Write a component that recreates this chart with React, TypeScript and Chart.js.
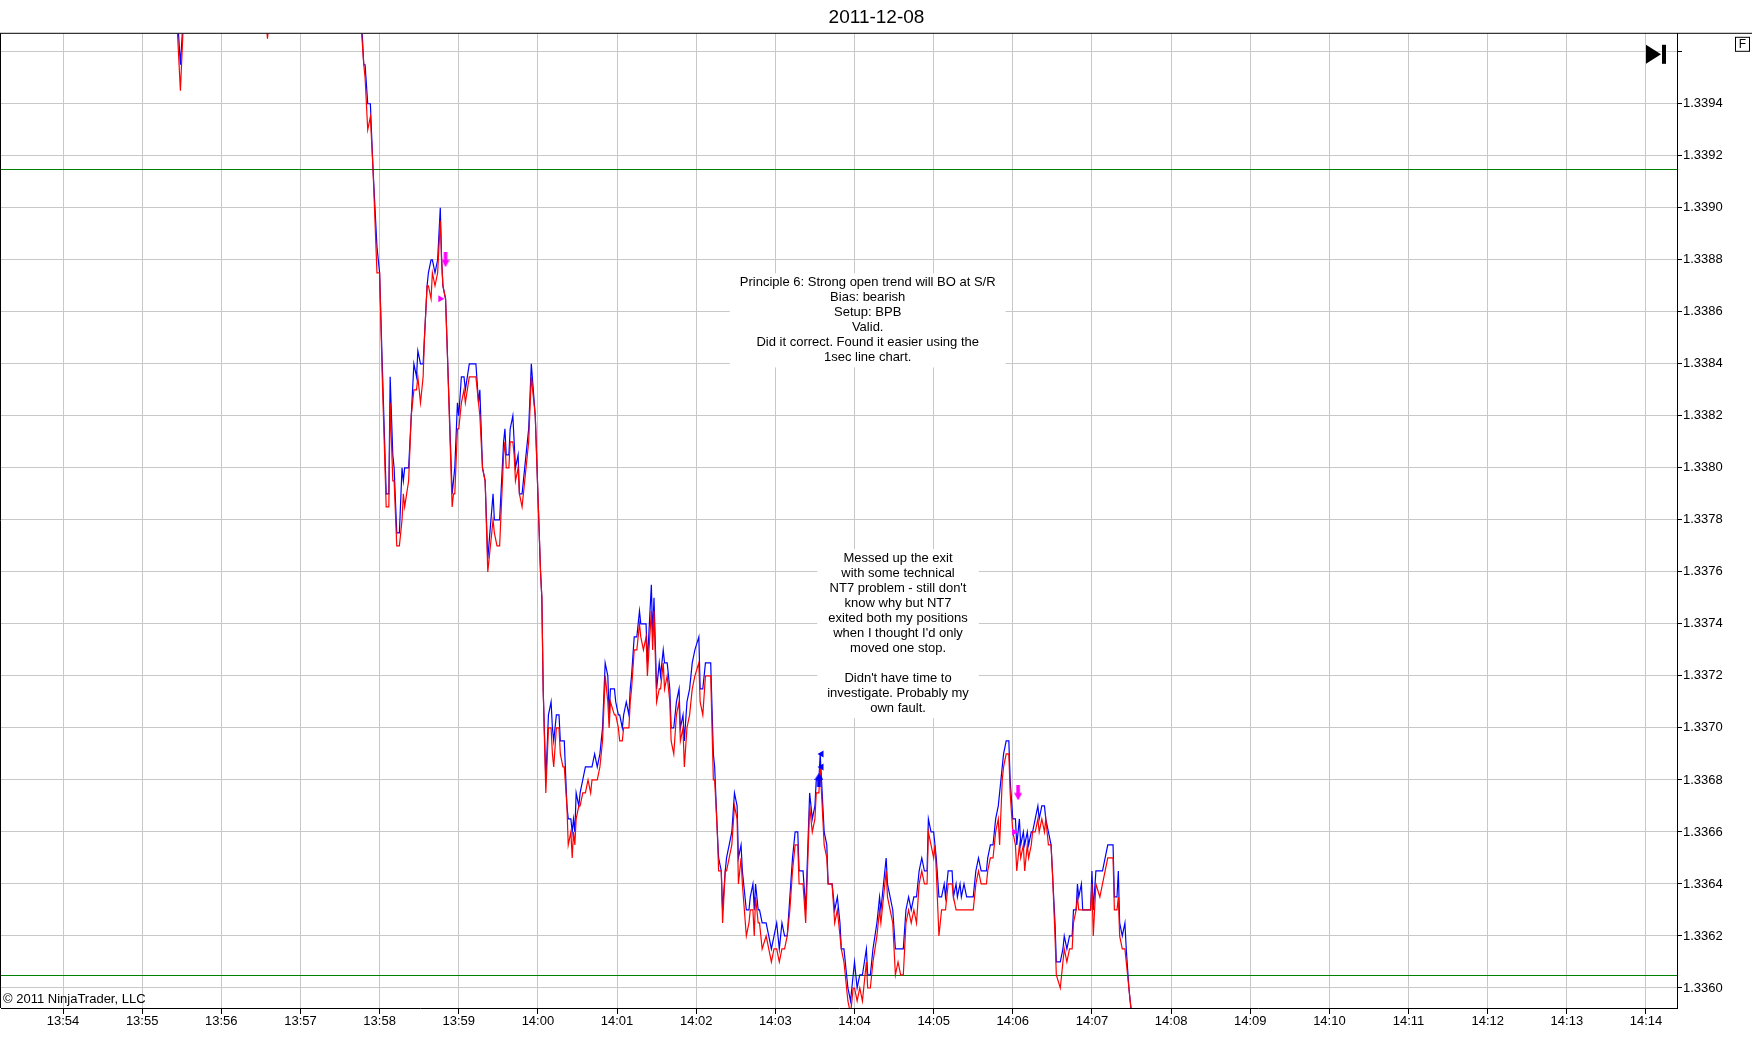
import React, { useEffect, useRef } from 'react';
import { Chart, registerables } from 'chart.js';

Chart.register(...registerables);

const FONT = "'Liberation Sans', Arial, Helvetica, sans-serif";

const chartTitle = '2011-12-08';
const copyrightText = '\u00a9 2011 NinjaTrader, LLC';
const sessionOrigin = '13:54';

const xTickLabels = ['13:54', '13:55', '13:56', '13:57', '13:58', '13:59', '14:00', '14:01', '14:02', '14:03', '14:04', '14:05', '14:06', '14:07', '14:08', '14:09', '14:10', '14:11', '14:12', '14:13', '14:14'];
const yTickValues = [1.336, 1.3362, 1.3364, 1.3366, 1.3368, 1.337, 1.3372, 1.3374, 1.3376, 1.3378, 1.338, 1.3382, 1.3384, 1.3386, 1.3388, 1.339, 1.3392, 1.3394, 1.3396];
const yUnlabeledTicks = [1.3396];
const xRange = [-47, 1223.5];
const yRange = [1.335923, 1.339669];

// seconds after 13:54:00
const seconds = [
  -50, 80, 86, 89, 92, 100, 150, 155, 160, 220, 226, 228, 229, 231, 233, 235, 238, 240, 242, 245,
  247, 248, 250, 251, 253, 255, 257, 258, 259, 262, 264, 266, 268, 269, 271, 273, 274, 276, 277, 279,
  280, 282, 284, 286, 287, 288, 290, 291, 295, 296, 297, 299, 300, 302, 304, 305, 308, 313, 315, 316,
  318, 320, 322, 326, 327, 329, 331, 334, 335, 336, 338, 339, 341, 342, 343, 345, 346, 348, 350, 353,
  355, 358, 362, 363, 364, 366, 368, 370, 371, 372, 374, 376, 377, 379, 380, 382, 383, 385, 386, 387,
  388, 389, 391, 392, 394, 396, 398, 400, 401, 403, 405, 407, 409, 411, 413, 414, 415, 418, 419, 421,
  422, 424, 425, 427, 429, 430, 431, 433, 435, 437, 438, 440, 442, 443, 446, 447, 448, 450, 452, 453,
  455, 456, 458, 460, 461, 463, 465, 467, 468, 470, 471, 473, 475, 477, 479, 482, 483, 485, 487, 491,
  493, 494, 496, 497, 499, 500, 502, 503, 505, 507, 509, 511, 512, 514, 515, 518, 520, 521, 523, 524,
  525, 527, 528, 530, 533, 535, 537, 539, 541, 543, 545, 547, 549, 551, 553, 555, 557, 558, 561, 563,
  564, 566, 568, 570, 571, 573, 574, 575, 577, 579, 580, 583, 585, 587, 589, 590, 592, 594, 595, 597,
  599, 600, 602, 604, 606, 609, 610, 612, 614, 617, 619, 620, 622, 624, 625, 627, 629, 631, 633, 635,
  637, 639, 641, 643, 645, 647, 649, 651, 653, 655, 656, 658, 660, 661, 662, 664, 666, 668, 669, 671,
  674, 675, 677, 678, 680, 681, 683, 685, 690, 692, 694, 696, 700, 701, 703, 705, 707, 709, 710, 712,
  713, 715, 717, 718, 720, 722, 723, 725, 726, 728, 729, 731, 732, 734, 735, 737, 739, 740, 742, 744,
  745, 747, 749, 750, 752, 753, 756, 758, 759, 761, 763, 765, 766, 768, 769, 770, 772, 773, 779, 780,
  781, 783, 786, 788, 790, 792, 796, 797, 799, 800, 801, 803, 805, 806, 808, 810,
];

const bluePrices = [
  1.3404, 1.3402, 1.3398, 1.33955, 1.3398, 1.3402, 1.34, 1.3397, 1.34, 1.34, 1.33975, 1.33955, 1.33955, 1.3394, 1.3394, 1.33915, 1.33885, 1.33875, 1.3384, 1.3379,
  1.3379, 1.33835, 1.33805, 1.338, 1.33775, 1.33775, 1.338, 1.33795, 1.338, 1.338, 1.3382, 1.3384, 1.33835, 1.33845, 1.3384, 1.3384, 1.3385, 1.3387, 1.33875, 1.3388,
  1.3388, 1.33875, 1.3388, 1.339, 1.3388, 1.3387, 1.33865, 1.3385, 1.3379, 1.33795, 1.338, 1.33825, 1.3382, 1.33835, 1.33835, 1.3383, 1.3384, 1.3384, 1.33825, 1.3383,
  1.338, 1.33795, 1.33765, 1.3379, 1.3378, 1.3378, 1.3378, 1.3381, 1.33815, 1.33805, 1.33805, 1.33815, 1.3382, 1.3381, 1.338, 1.33805, 1.3379, 1.3379, 1.338, 1.33815,
  1.3384, 1.3382, 1.3376, 1.3375, 1.33715, 1.3368, 1.33705, 1.3371, 1.337, 1.33695, 1.33705, 1.33705, 1.33695, 1.33695, 1.33695, 1.3367, 1.33665, 1.33665, 1.3366, 1.33665,
  1.3366, 1.33675, 1.3367, 1.33675, 1.3368, 1.33685, 1.33685, 1.33685, 1.33685, 1.3369, 1.33685, 1.3369, 1.337, 1.33725, 1.3372, 1.33705, 1.33715, 1.33715, 1.3371, 1.33705,
  1.33705, 1.337, 1.33705, 1.3371, 1.33705, 1.33715, 1.3372, 1.33735, 1.33735, 1.33745, 1.3374, 1.3374, 1.3374, 1.33725, 1.33755, 1.33735, 1.3375, 1.33715, 1.33725, 1.3372,
  1.3373, 1.33725, 1.33725, 1.33715, 1.337, 1.337, 1.3371, 1.33715, 1.337, 1.33705, 1.33695, 1.3371, 1.33715, 1.33725, 1.3373, 1.33735, 1.33715, 1.33715, 1.33725, 1.33725,
  1.3369, 1.33685, 1.3366, 1.3365, 1.33645, 1.3363, 1.33645, 1.3365, 1.33655, 1.3366, 1.33675, 1.3367, 1.3365, 1.33655, 1.33645, 1.3363, 1.3363, 1.33635, 1.3364, 1.3363,
  1.3364, 1.3363, 1.3363, 1.33625, 1.33625, 1.3362, 1.33615, 1.3362, 1.33625, 1.33615, 1.33625, 1.3362, 1.3362, 1.33635, 1.3365, 1.3366, 1.3366, 1.33645, 1.33645, 1.3363,
  1.33645, 1.33675, 1.33665, 1.3367, 1.3368, 1.3368, 1.3369, 1.3368, 1.3366, 1.33655, 1.3364, 1.3364, 1.3363, 1.33635, 1.33625, 1.33615, 1.33615, 1.33605, 1.336, 1.33595,
  1.33605, 1.3361, 1.336, 1.33605, 1.33605, 1.33615, 1.33605, 1.33605, 1.33615, 1.33625, 1.33635, 1.3363, 1.3364, 1.3365, 1.3364, 1.33635, 1.3363, 1.33615, 1.33615, 1.33615,
  1.33615, 1.3363, 1.33635, 1.3363, 1.33635, 1.33635, 1.33645, 1.3365, 1.33645, 1.33645, 1.33665, 1.3366, 1.3366, 1.33655, 1.3365, 1.33635, 1.33635, 1.3364, 1.33635, 1.33645,
  1.33645, 1.33635, 1.3364, 1.33635, 1.3364, 1.33635, 1.3364, 1.33635, 1.33635, 1.33645, 1.3365, 1.33645, 1.33645, 1.3365, 1.33655, 1.33655, 1.33665, 1.3367, 1.33675, 1.33685,
  1.3369, 1.33695, 1.33695, 1.3368, 1.33665, 1.33665, 1.33655, 1.33665, 1.33655, 1.3366, 1.33655, 1.3366, 1.33655, 1.3366, 1.3366, 1.33665, 1.3367, 1.33665, 1.3367, 1.3367,
  1.33665, 1.3366, 1.33655, 1.33645, 1.33625, 1.3361, 1.3361, 1.33615, 1.3362, 1.33615, 1.3362, 1.3362, 1.3363, 1.3363, 1.3364, 1.33635, 1.3364, 1.3363, 1.3363, 1.33645,
  1.3363, 1.33645, 1.33645, 1.33645, 1.3365, 1.33655, 1.33655, 1.33635, 1.33635, 1.33645, 1.33625, 1.3362, 1.33625, 1.33615, 1.336, 1.3359,
];

const redPrices = [
  1.34035, 1.34015, 1.33975, 1.33945, 1.3398, 1.34015, 1.33995, 1.33965, 1.33995, 1.33995, 1.3397, 1.33955, 1.3395, 1.3393, 1.33935, 1.33915, 1.33875, 1.33875, 1.33835, 1.33785,
  1.33785, 1.33825, 1.33795, 1.33795, 1.3377, 1.3377, 1.3378, 1.3379, 1.33785, 1.33795, 1.3382, 1.3383, 1.3383, 1.33835, 1.33825, 1.33835, 1.3385, 1.3387, 1.3387, 1.33865,
  1.33875, 1.3387, 1.33875, 1.33895, 1.3388, 1.3387, 1.33865, 1.3385, 1.33785, 1.3379, 1.3379, 1.33815, 1.33815, 1.33825, 1.3383, 1.33825, 1.33835, 1.33835, 1.33825, 1.3382,
  1.338, 1.33795, 1.3376, 1.3378, 1.33775, 1.3377, 1.3377, 1.33805, 1.3381, 1.338, 1.338, 1.3381, 1.3381, 1.33805, 1.33795, 1.338, 1.3379, 1.33785, 1.33795, 1.3381,
  1.33835, 1.3382, 1.3376, 1.3375, 1.33715, 1.33675, 1.337, 1.337, 1.3369, 1.33685, 1.337, 1.337, 1.3369, 1.33685, 1.33685, 1.3367, 1.33655, 1.3366, 1.3365, 1.3366,
  1.33655, 1.33665, 1.3367, 1.3367, 1.33675, 1.33675, 1.3368, 1.33675, 1.3368, 1.3368, 1.3368, 1.33685, 1.33695, 1.3372, 1.3371, 1.337, 1.3371, 1.33705, 1.33705, 1.337,
  1.33695, 1.33695, 1.337, 1.337, 1.337, 1.3371, 1.33715, 1.3373, 1.3373, 1.3374, 1.33735, 1.3373, 1.33735, 1.3372, 1.33745, 1.3373, 1.33745, 1.3371, 1.33715, 1.33715,
  1.33725, 1.33715, 1.3372, 1.3371, 1.33695, 1.3369, 1.33705, 1.3371, 1.33695, 1.337, 1.33685, 1.337, 1.33705, 1.33715, 1.3372, 1.33725, 1.3371, 1.33705, 1.3372, 1.3372,
  1.3368, 1.3368, 1.3366, 1.33645, 1.33645, 1.33625, 1.33645, 1.33645, 1.3365, 1.33655, 1.3367, 1.33665, 1.3364, 1.3365, 1.3364, 1.3362, 1.33625, 1.3363, 1.3363, 1.3362,
  1.33635, 1.33625, 1.33625, 1.33615, 1.3362, 1.33615, 1.3361, 1.33615, 1.33615, 1.3361, 1.33615, 1.33615, 1.3362, 1.3363, 1.33645, 1.33655, 1.33655, 1.3364, 1.3364, 1.33625,
  1.3364, 1.3367, 1.3366, 1.33665, 1.33675, 1.33675, 1.33685, 1.33675, 1.33655, 1.3365, 1.3364, 1.3364, 1.33625, 1.3363, 1.3362, 1.33615, 1.3361, 1.336, 1.33595, 1.3359,
  1.336, 1.336, 1.33595, 1.336, 1.33595, 1.3361, 1.336, 1.336, 1.3361, 1.3362, 1.3363, 1.33625, 1.33635, 1.33645, 1.33635, 1.3363, 1.33625, 1.33605, 1.3361, 1.33605,
  1.33605, 1.33625, 1.3363, 1.33625, 1.3363, 1.33625, 1.3364, 1.33645, 1.3364, 1.3364, 1.3366, 1.33655, 1.3365, 1.33655, 1.33645, 1.3362, 1.3363, 1.3363, 1.3363, 1.3364,
  1.3364, 1.33635, 1.3363, 1.3363, 1.3363, 1.3363, 1.3363, 1.3363, 1.3363, 1.3364, 1.33645, 1.3364, 1.3364, 1.33645, 1.3365, 1.3365, 1.3366, 1.33665, 1.33655, 1.3368,
  1.33685, 1.3369, 1.3369, 1.33675, 1.3366, 1.33655, 1.33645, 1.33655, 1.3365, 1.33655, 1.33645, 1.33655, 1.3365, 1.33655, 1.3366, 1.3366, 1.33665, 1.3366, 1.33665, 1.3366,
  1.33665, 1.33655, 1.33655, 1.33645, 1.3362, 1.33605, 1.336, 1.3361, 1.33615, 1.3361, 1.33615, 1.33615, 1.33625, 1.3363, 1.33635, 1.3363, 1.3363, 1.3363, 1.3363, 1.3364,
  1.3362, 1.3364, 1.33635, 1.3364, 1.33645, 1.3365, 1.3365, 1.3363, 1.3363, 1.33635, 1.3362, 1.33615, 1.33615, 1.3361, 1.336, 1.3359,
];

// support / resistance lines
const levelPrices = [1.33915, 1.33605];

// execution markers
const magentaArrowTimes = [290, 724];
const magentaArrowPrices = [1.3388, 1.33675];
const magentaTriangleTimes = [286, 721];
const magentaTrianglePrices = [1.33865, 1.3366];
const blueTriangleTimes = [575, 575];
const blueTrianglePrices = [1.3369, 1.33685];
const blueArrowTimes = [573];
const blueArrowPrices = [1.3368];

// text notes: anchored at centre time / top price
const note1Lines = [
  'Principle 6: Strong open trend will BO at S/R',
  'Bias: bearish',
  'Setup: BPB',
  'Valid.',
  'Did it correct. Found it easier using the',
  '1sec line chart.',
];
const note2Lines = [
  'Messed up the exit',
  'with some technical',
  "NT7 problem - still don't",
  'know why but NT7',
  'exited both my positions',
  "when I thought I'd only",
  'moved one stop.',
  '',
  "Didn't have time to",
  'investigate. Probably my',
  'own fault.',
];
const noteTimes = [610, 633];
const notePrices = [1.33874, 1.33768];

function toPoints(xs: number[], ys: number[]) {
  return xs.map((x, i) => ({ x, y: ys[i] }));
}

function arrowImage(color: string, up: boolean, w: number, h: number): HTMLCanvasElement {
  const c = document.createElement('canvas');
  c.width = w;
  c.height = h;
  const g = c.getContext('2d')!;
  g.fillStyle = color;
  const s0 = w * 0.28;
  const s1 = w * 0.72;
  const hb = h * 0.5;
  g.beginPath();
  if (!up) {
    g.moveTo(s0, 0);
    g.lineTo(s1, 0);
    g.lineTo(s1, hb);
    g.lineTo(w, hb);
    g.lineTo(w / 2, h);
    g.lineTo(0, hb);
    g.lineTo(s0, hb);
  } else {
    g.moveTo(s0, h);
    g.lineTo(s1, h);
    g.lineTo(s1, h - hb);
    g.lineTo(w, h - hb);
    g.lineTo(w / 2, 0);
    g.lineTo(0, h - hb);
    g.lineTo(s0, h - hb);
  }
  g.closePath();
  g.fill();
  return c;
}

export default function App() {
  const canvasRef = useRef<HTMLCanvasElement | null>(null);

  useEffect(() => {
    const canvas = canvasRef.current;
    if (!canvas) return;

    const [oh, om] = sessionOrigin.split(':').map(Number);
    const originMin = oh * 60 + om;
    const xTickValues = xTickLabels.map((l) => {
      const [h, m] = l.split(':').map(Number);
      return (h * 60 + m - originMin) * 60;
    });

    const magentaArrow = arrowImage('#ff00ff', false, 8, 15);
    const blueArrow = arrowImage('#0000ff', true, 9, 14);

    const decor = {
      id: 'ntDecor',
      beforeDatasetsDraw(chart: any) {
        const { ctx, chartArea, scales } = chart;
        const xs = scales.x;
        const ys = scales.y;
        ctx.save();
        ctx.beginPath();
        ctx.rect(chartArea.left, chartArea.top, chartArea.right - chartArea.left, chartArea.bottom - chartArea.top);
        ctx.clip();
        // green levels
        ctx.strokeStyle = '#008000';
        ctx.lineWidth = 1;
        levelPrices.forEach((p) => {
          const y = Math.round(ys.getPixelForValue(p)) + 0.5;
          ctx.beginPath();
          ctx.moveTo(chartArea.left, y);
          ctx.lineTo(chartArea.right, y);
          ctx.stroke();
        });
        // notes
        const notes = [note1Lines, note2Lines];
        ctx.font = `13px ${FONT}`;
        notes.forEach((lines, i) => {
          const cx = xs.getPixelForValue(noteTimes[i]);
          const top = ys.getPixelForValue(notePrices[i]);
          const lh = 15;
          const wMax = Math.max(...lines.map((l) => ctx.measureText(l).width));
          ctx.fillStyle = '#ffffff';
          ctx.fillRect(cx - wMax / 2 - 10, top - 2, wMax + 20, lines.length * lh + 4);
          ctx.fillStyle = '#000000';
          ctx.textAlign = 'center';
          ctx.textBaseline = 'middle';
          lines.forEach((l, j) => {
            ctx.fillText(l, cx, top + lh / 2 + j * lh);
          });
        });
        ctx.restore();
      },
      afterDraw(chart: any) {
        const { ctx, chartArea, width } = chart;
        ctx.save();
        ctx.strokeStyle = '#000000';
        ctx.lineWidth = 1;
        ctx.beginPath();
        ctx.moveTo(0, chartArea.top - 0.5);
        ctx.lineTo(width, chartArea.top - 0.5);
        ctx.moveTo(0.5, chartArea.top - 0.5);
        ctx.lineTo(0.5, chartArea.bottom);
        ctx.stroke();
        // copyright
        ctx.fillStyle = '#000000';
        ctx.font = `13px ${FONT}`;
        ctx.textAlign = 'left';
        ctx.textBaseline = 'middle';
        ctx.fillText(copyrightText, chartArea.left + 2, chartArea.bottom - 9);
        // "F" box
        const fx = width - 17;
        const fy = chartArea.top + 3;
        ctx.fillStyle = '#ffffff';
        ctx.fillRect(fx, fy, 15, 15);
        ctx.strokeRect(fx + 0.5, fy + 0.5, 14, 14);
        ctx.fillStyle = '#000000';
        ctx.font = `12px ${FONT}`;
        ctx.textAlign = 'center';
        ctx.fillText('F', fx + 7.5, fy + 8);
        // scroll-to-end icon
        const ix = chartArea.right - 31;
        const iy = chartArea.top + 11;
        ctx.beginPath();
        ctx.moveTo(ix, iy);
        ctx.lineTo(ix + 15, iy + 9.5);
        ctx.lineTo(ix, iy + 19);
        ctx.closePath();
        ctx.fill();
        ctx.fillRect(ix + 16, iy, 4, 19);
        ctx.restore();
      },
    };

    const chart = new Chart(canvas, {
      type: 'line',
      data: {
        datasets: [
          {
            label: 'Entry arrows',
            data: toPoints(magentaArrowTimes, magentaArrowPrices),
            showLine: false,
            pointStyle: magentaArrow as any,
            pointRadius: 6,
          } as any,
          {
            label: 'Exit marks',
            data: toPoints(magentaTriangleTimes, magentaTrianglePrices),
            showLine: false,
            pointStyle: 'triangle',
            rotation: 90,
            pointRadius: 4,
            pointBackgroundColor: '#ff00ff',
            pointBorderColor: '#ff00ff',
            pointBorderWidth: 0,
          },
          {
            label: 'Blue marks',
            data: toPoints(blueTriangleTimes, blueTrianglePrices),
            showLine: false,
            pointStyle: 'triangle',
            rotation: -90,
            pointRadius: 4,
            pointBackgroundColor: '#0000ff',
            pointBorderColor: '#0000ff',
            pointBorderWidth: 0,
          },
          {
            label: 'Blue arrow',
            data: toPoints(blueArrowTimes, blueArrowPrices),
            showLine: false,
            pointStyle: blueArrow as any,
            pointRadius: 6,
          } as any,
          {
            label: 'Red',
            data: toPoints(seconds, redPrices),
            borderColor: '#ff0000',
            borderWidth: 1.2,
            pointRadius: 0,
            tension: 0,
            fill: false,
          },
          {
            label: 'Blue',
            data: toPoints(seconds, bluePrices),
            borderColor: '#0000ff',
            borderWidth: 1.2,
            pointRadius: 0,
            tension: 0,
            fill: false,
          },
        ],
      },
      options: {
        responsive: false,
        animation: false,
        events: [],
        layout: { autoPadding: false, padding: { left: 1, right: 0, top: 0, bottom: 0 } },
        plugins: {
          legend: { display: false },
          tooltip: { enabled: false },
          title: {
            display: true,
            text: chartTitle,
            color: '#000000',
            font: { family: FONT, size: 19, weight: 'normal' },
            padding: { top: 6, bottom: 5 },
          },
        },
        scales: {
          x: {
            type: 'linear',
            min: xRange[0],
            max: xRange[1],
            afterBuildTicks: (scale: any) => {
              scale.ticks = xTickValues.map((v) => ({ value: v }));
            },
            afterFit: (scale: any) => {
              scale.height = 56;
              scale.paddingLeft = 0;
              scale.paddingRight = 0;
            },
            ticks: {
              autoSkip: false,
              maxRotation: 0,
              padding: 0,
              color: '#000000',
              font: { family: FONT, size: 13 },
              callback: (_v: any, i: number) => xTickLabels[i],
            },
            grid: {
              color: '#c8c8c8',
              tickColor: '#000000',
              tickLength: 6,
              lineWidth: 1,
            },
            border: { display: true, color: '#000000', width: 1 },
          },
          y: {
            type: 'linear',
            position: 'right',
            min: yRange[0],
            max: yRange[1],
            afterBuildTicks: (scale: any) => {
              scale.ticks = yTickValues.map((v) => ({ value: v }));
            },
            afterFit: (scale: any) => {
              scale.width = 75;
              scale.paddingTop = 0;
              scale.paddingBottom = 0;
            },
            ticks: {
              autoSkip: false,
              padding: 1,
              color: '#000000',
              font: { family: FONT, size: 13 },
              callback: (v: any) => (yUnlabeledTicks.some((u) => Math.abs(u - v) < 1e-9) ? '' : Number(v).toFixed(4)),
            },
            grid: {
              color: '#c8c8c8',
              tickColor: '#000000',
              tickLength: 5,
              lineWidth: 1,
            },
            border: { display: true, color: '#000000', width: 1 },
          },
        },
      } as any,
      plugins: [decor],
    });

    return () => {
      chart.destroy();
    };
  }, []);

  return (
    <div style={{ position: 'absolute', left: 0, top: 0, width: 1752, height: 1064, background: '#ffffff' }}>
      <canvas ref={canvasRef} width={1752} height={1064} style={{ display: 'block' }} />
    </div>
  );
}
